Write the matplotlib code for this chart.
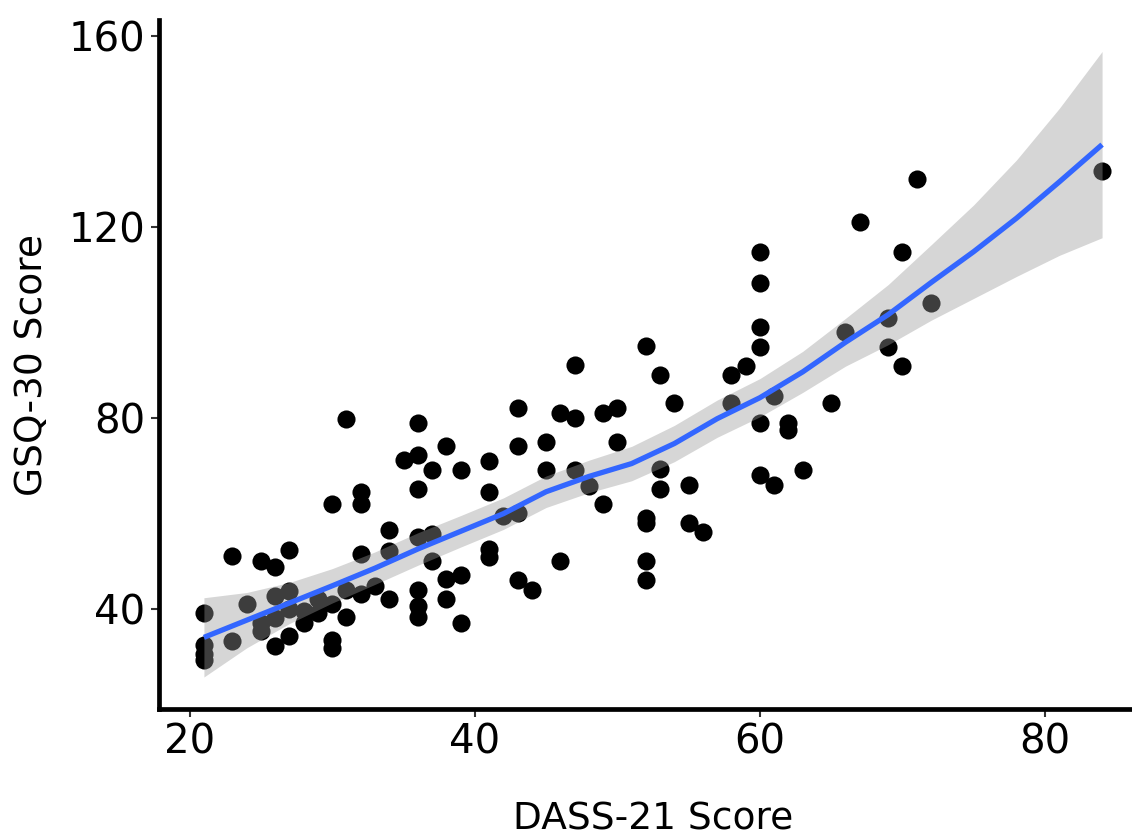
"""
GSQ-30 vs DASS-21 scatter with loess-style smooth and 95% band
"""
import matplotlib
matplotlib.use('Agg')
import matplotlib.pyplot as plt
import numpy as np

# DASS-21 score (x) and GSQ-30 score (y) per participant
dass = [21, 21, 21, 21,
        23, 23,
        24,
        25, 25, 25,
        26, 26, 26, 26,
        27, 27, 27, 27,
        28, 28,
        29, 29,
        30, 30, 30, 30,
        31, 31, 31,
        32, 32, 32, 32,
        33,
        34, 34, 34,
        35,
        36, 36, 36, 36, 36, 36, 36,
        37, 37, 37,
        38, 38, 38,
        39, 39, 39,
        41, 41, 41, 41,
        42,
        43, 43, 43, 43,
        44,
        45, 45,
        46, 46,
        47, 47, 47,
        48,
        49, 49,
        50, 50,
        52, 52, 52, 52, 52,
        53, 53, 53,
        54,
        55, 55,
        56,
        58, 58,
        59,
        60, 60, 60, 60, 60, 60,
        61, 61,
        62, 62,
        63,
        65,
        66,
        67,
        69, 69,
        70, 70,
        71,
        72,
        84]
gsq = [39.2, 32.5, 30.5, 29.3,
       51.1, 33.3,
       41.0,
       50.0, 35.4, 37.0,
       48.8, 42.7, 32.2, 38.0,
       52.2, 43.8, 34.3, 40.0,
       37.1, 39.5,
       39.2, 42.0,
       62.0, 41.0, 33.5, 31.8,
       79.8, 38.2, 44.0,
       64.4, 62.0, 51.5, 43.1,
       44.8,
       56.5, 42.0, 52.0,
       71.1,
       79.0, 72.1, 65.0, 55.0, 44.0, 40.5, 38.2,
       69.1, 55.7, 50.0,
       74.0, 46.2, 42.0,
       69.0, 47.1, 37.1,
       71.0, 64.4, 52.6, 50.8,
       59.5,
       82.0, 74.0, 60.0, 46.0,
       44.0,
       75.0, 69.0,
       81.0, 50.0,
       91.0, 80.0, 69.0,
       65.6,
       81.0, 62.0,
       82.0, 75.0,
       95.0, 59.0, 58.0, 50.0, 46.0,
       89.0, 69.3, 65.0,
       83.0,
       66.0, 58.0,
       56.0,
       89.0, 83.0,
       90.8,
       114.8, 108.2, 98.9, 94.9, 79.0, 68.0,
       84.5, 66.0,
       78.8, 77.4,
       69.0,
       83.0,
       98.0,
       121.0,
       100.8, 94.9,
       114.8, 90.8,
       130.0,
       104.0,
       131.6]

# smooth curve and half-width of its confidence band
smooth_x = [21, 24, 27, 30, 33, 36, 39, 42, 45, 48, 51,
            54, 57, 60, 63, 66, 69, 72, 75, 78, 81, 84]
smooth_y = [34.0, 37.6, 41.2, 44.8, 48.5, 52.5, 56.2, 59.9, 64.5, 67.7, 70.4,
            74.6, 79.8, 84.2, 89.6, 95.8, 101.6, 108.3, 114.8, 121.8, 129.4, 137.2]
band_half = [8.3, 5.8, 4.3, 3.6, 3.4, 3.4, 3.3, 3.3, 3.3, 3.4, 3.6,
             3.8, 3.9, 4.0, 4.3, 5.0, 6.3, 7.9, 9.8, 12.2, 15.4, 19.5]

W, H = 1132, 839
fig = plt.figure(figsize=(W / 100, H / 100), dpi=100)
# panel runs a little past the right edge, as in the original crop
ax = fig.add_axes([159 / W, (H - 709) / H, 988 / W, (709 - 20) / H])

ax.scatter(dass, gsq, s=170, color='black', linewidths=0, zorder=2)

sx = np.array(smooth_x)
sy = np.array(smooth_y)
hw = np.array(band_half)
ax.fill_between(sx, sy - hw, sy + hw, color='#999999', alpha=0.4,
                linewidth=0, zorder=3)
ax.plot(sx, sy, color='#3366FF', linewidth=3.8, zorder=4,
        solid_joinstyle='round', solid_capstyle='butt')

ax.set_xlim(17.85, 87.15)
ax.set_ylim(19.0, 163.3)
ax.set_xticks([20, 40, 60, 80])
ax.set_yticks([40, 80, 120, 160])

for side in ['top', 'right']:
    ax.spines[side].set_visible(False)
for side in ['left', 'bottom']:
    ax.spines[side].set_linewidth(3.4)
    ax.spines[side].set_color('black')

ax.tick_params(axis='both', length=6, width=1.5, color='#333333',
               labelsize=29, labelcolor='black', pad=4)
ax.set_xlabel('DASS-21 Score', fontsize=27, labelpad=28)
ax.set_ylabel('GSQ-30 Score', fontsize=27, labelpad=13)

fig.savefig('out.png', dpi=100)
